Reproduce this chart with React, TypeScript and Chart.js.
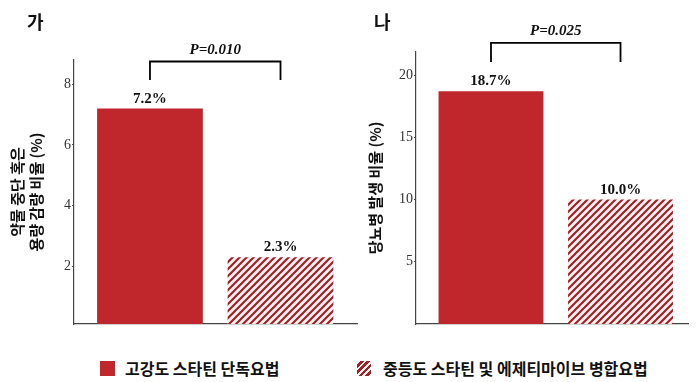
import React, { useEffect, useRef } from "react";
import { Chart, registerables } from "chart.js";

Chart.register(...registerables);

// ---- data ----
const groups = ["고강도 스타틴 단독요법", "중등도 스타틴 및 에제티마이브 병합요법"];
const groupPositions = [1, 2];
const discontinuationRates = [7.2, 2.3]; // 가: 약물 중단 혹은 용량 감량 비율 (%)
const diabetesRates = [18.7, 10.0]; // 나: 당뇨병 발생 비율 (%)
const ticksA = [2, 4, 6, 8];
const ticksB = [5, 10, 15, 20];
const pValueA = "P=0.010";
const pValueB = "P=0.025";
const titleA = ["약물 중단 혹은", "용량 감량 비율 (%)"];
const titleB = "당뇨병 발생 비율 (%)";

const SOLID = "#c0272d";
const STRIPE = "#9c2429";

function makePattern(): CanvasPattern | string {
  const s = 7;
  const c = document.createElement("canvas");
  c.width = s;
  c.height = s;
  const g = c.getContext("2d");
  if (!g) return STRIPE;
  g.fillStyle = "#fdf1f1";
  g.fillRect(0, 0, s, s);
  g.strokeStyle = STRIPE;
  g.lineWidth = 2.2;
  g.beginPath();
  g.moveTo(-1, s + 1);
  g.lineTo(s + 1, -1);
  g.moveTo(-2, 2);
  g.lineTo(2, -2);
  g.moveTo(s - 2, s + 2);
  g.lineTo(s + 2, s - 2);
  g.stroke();
  const p = g.createPattern(c, "repeat");
  return p || STRIPE;
}

const annotPlugin = (values: number[], pText: string, bracketTop: number, bracketLeg: number) => ({
  id: "annot",
  afterDraw(chart: any) {
    const ctx = chart.ctx as CanvasRenderingContext2D;
    const meta = chart.getDatasetMeta(0);
    const xs = chart.scales.x;
    const ys = chart.scales.y;
    ctx.save();
    ctx.fillStyle = "#111";
    ctx.textAlign = "center";
    ctx.textBaseline = "alphabetic";
    ctx.font = 'bold 15px "Liberation Serif", "Times New Roman", serif';
    meta.data.forEach((el: any, i: number) => {
      ctx.fillText(values[i].toFixed(1) + "%", el.x, el.y - 6);
    });
    const x1 = xs.getPixelForValue(groupPositions[0]);
    const x2 = xs.getPixelForValue(groupPositions[1]);
    const yt = ys.getPixelForValue(bracketTop);
    const yb = ys.getPixelForValue(bracketLeg);
    ctx.strokeStyle = "#000";
    ctx.lineWidth = 1.8;
    ctx.beginPath();
    ctx.moveTo(x1, yb);
    ctx.lineTo(x1, yt);
    ctx.lineTo(x2, yt);
    ctx.lineTo(x2, yb);
    ctx.stroke();
    ctx.font = 'italic bold 15px "Liberation Serif", "Times New Roman", serif';
    ctx.fillText(pText, (x1 + x2) / 2, yt - 8);
    ctx.restore();
  },
});

type PanelProps = {
  values: number[];
  ticks: number[];
  yMin: number;
  yMax: number;
  xMin: number;
  xMax: number;
  axisWidth: number;
  title: string | string[];
  titlePad: number;
  pText: string;
  bracketTop: number;
  bracketLeg: number;
  padTop: number;
  padRight: number;
  width: number;
};

function Panel(props: PanelProps) {
  const ref = useRef<HTMLCanvasElement>(null);
  useEffect(() => {
    if (!ref.current) return;
    const pattern = makePattern();
    const chart = new Chart(ref.current, {
      type: "bar",
      data: {
        datasets: [
          {
            data: props.values.map((v, i) => ({ x: groupPositions[i], y: v })),
            backgroundColor: [SOLID, pattern as any],
            borderWidth: 0,
            barPercentage: 0.81,
            categoryPercentage: 1,
          },
        ],
      },
      options: {
        animation: false,
        responsive: false,
        devicePixelRatio: 1,
        layout: { padding: { top: props.padTop, right: props.padRight, bottom: 16, left: 0 } },
        plugins: { legend: { display: false }, tooltip: { enabled: false }, title: { display: false } },
        scales: {
          x: {
            type: "linear",
            offset: false,
            min: props.xMin,
            max: props.xMax,
            grid: { display: false, offset: false },
            ticks: { display: false },
            border: { display: true, color: "#444", width: 1.2 },
            afterBuildTicks: (s: any) => {
              s.ticks = groupPositions.map((v) => ({ value: v }));
            },
            afterFit: (s: any) => {
              s.height = 0;
            },
          },
          y: {
            type: "linear",
            min: props.yMin,
            max: props.yMax,
            grid: { display: true, drawOnChartArea: false, drawTicks: true, tickLength: 2, color: "#444" },
            border: { display: true, color: "#444", width: 1.2 },
            ticks: {
              padding: 1,
              color: "#333",
              font: { family: '"Liberation Serif", "Times New Roman", serif', size: 14 },
            },
            afterBuildTicks: (s: any) => {
              s.ticks = props.ticks.map((v) => ({ value: v }));
            },
            afterFit: (s: any) => {
              s.width = props.axisWidth;
            },
            title: {
              display: true,
              text: props.title,
              color: "#111",
              padding: { top: props.titlePad, bottom: 0 },
              font: { family: '"Noto Sans CJK KR", sans-serif', size: 15, weight: "bold", lineHeight: 1.27 },
            },
          },
        },
      },
      plugins: [annotPlugin(props.values, props.pText, props.bracketTop, props.bracketLeg)],
    } as any);
    return () => chart.destroy();
  }, []);
  return <canvas ref={ref} width={props.width} height={340} style={{ width: props.width, height: 340, display: "block" }} />;
}

const letterStyle: React.CSSProperties = {
  position: "absolute",
  fontFamily: '"Noto Sans CJK KR", sans-serif',
  fontWeight: 700,
  fontSize: 18,
  lineHeight: "18px",
  color: "#111",
};

const legendText: React.CSSProperties = {
  fontFamily: '"Noto Sans CJK KR", sans-serif',
  fontWeight: 700,
  fontSize: 16,
  lineHeight: "16px",
  color: "#111",
  whiteSpace: "nowrap",
};

export default function App() {
  return (
    <div style={{ position: "absolute", left: 0, top: 0, width: 697, height: 382, background: "#fff", overflow: "hidden" }}>
      <div style={{ position: "absolute", left: 0, top: 0 }}>
        <Panel
          values={discontinuationRates}
          ticks={ticksA}
          yMin={0.1}
          yMax={8.8}
          xMin={0.418}
          xMax={2.586}
          axisWidth={74}
          title={titleA}
          titlePad={7.5}
          pText={pValueA}
          bracketTop={8.75}
          bracketLeg={8.14}
          padTop={60}
          padRight={3}
          width={360}
        />
      </div>
      <div style={{ position: "absolute", left: 360, top: 0 }}>
        <Panel
          values={diabetesRates}
          ticks={ticksB}
          yMin={0}
          yMax={21.86}
          xMin={0.421}
          xMax={2.521}
          axisWidth={56}
          title={titleB}
          titlePad={5.5}
          pText={pValueB}
          bracketTop={22.59}
          bracketLeg={21.06}
          padTop={52}
          padRight={9}
          width={337}
        />
      </div>
      <div style={{ ...letterStyle, left: 27, top: 12 }}>가</div>
      <div style={{ ...letterStyle, left: 374, top: 12 }}>나</div>
      <div style={{ position: "absolute", left: 100, top: 360, display: "flex", alignItems: "center" }}>
        <div style={{ width: 15, height: 15, background: SOLID }} />
        <div style={{ ...legendText, marginLeft: 10 }}>{groups[0]}</div>
      </div>
      <div style={{ position: "absolute", left: 357, top: 360, display: "flex", alignItems: "center" }}>
        <div
          style={{
            width: 14,
            height: 15,
            background: `repeating-linear-gradient(-45deg, #fdf1f1 0px, #fdf1f1 2px, ${STRIPE} 2px, ${STRIPE} 4.5px)`,
          }}
        />
        <div style={{ ...legendText, marginLeft: 12 }}>{groups[1]}</div>
      </div>
    </div>
  );
}
